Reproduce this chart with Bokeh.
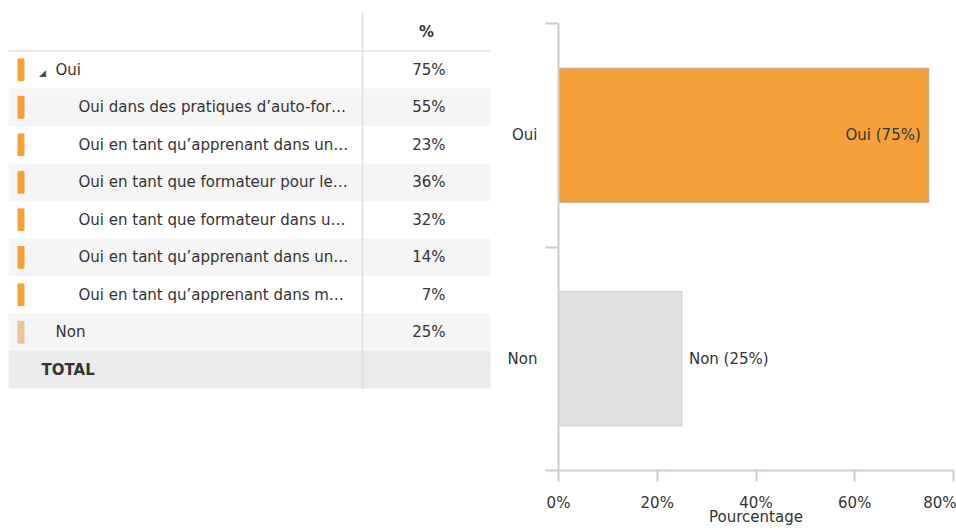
from bokeh.plotting import figure
from bokeh.layouts import row
from bokeh.models import ColumnDataSource, Range1d, FixedTicker, PrintfTickFormatter
from bokeh.core.properties import value
from bokeh.embed import file_html
from bokeh.resources import INLINE

# ---------------- data ----------------
row_labels = [
    "Oui",
    "Oui dans des pratiques d\u2019auto-for\u2026",
    "Oui en tant qu\u2019apprenant dans un\u2026",
    "Oui en tant que formateur pour le\u2026",
    "Oui en tant que formateur dans u\u2026",
    "Oui en tant qu\u2019apprenant dans un\u2026",
    "Oui en tant qu\u2019apprenant dans m\u2026",
    "Non",
]
row_levels = [0, 1, 1, 1, 1, 1, 1, 0]
row_pcts = [75, 55, 23, 36, 32, 14, 7, 25]
row_group = ["Oui", "Oui", "Oui", "Oui", "Oui", "Oui", "Oui", "Non"]
total_label = "TOTAL"
header_label = "%"

categories = ["Oui", "Non"]
cat_values = [75, 25]
x_ticks = [0, 20, 40, 60, 80]
x_title = "Pourcentage"

FONT = "DejaVu Sans"
FS = "15px"
TXT = "#333333"
ORANGE = "#f4a13a"
LIGHT_ORANGE = "#f0c48e"
GREY_BAR = "#e0e0e0"
AXIS = "#c7cdd9"

H = 530
TOP, BOTTOM = 8, 60          # shared borders so both frames line up
FRAME_BOTTOM = H - BOTTOM

# ---------------- table figure ----------------
TW = 498
ROW_H = 37.5
ROW0 = 69.25  # screen y of first data row centre
t = figure(width=TW, height=H, output_backend="svg", toolbar_location=None,
           x_range=Range1d(0, TW),
           y_range=Range1d((FRAME_BOTTOM - ROW0) / ROW_H, (TOP - ROW0) / ROW_H),
           min_border_left=0, min_border_right=0,
           min_border_top=TOP, min_border_bottom=BOTTOM, outline_line_color=None)
t.axis.visible = False
t.grid.visible = False

n = len(row_labels)
idx = list(range(n))
tsrc = ColumnDataSource(dict(
    y=idx,
    label=row_labels,
    lx=[55 + 23 * lv for lv in row_levels],
    pct=[f"{v}%" for v in row_pcts],
    bg=["#f5f5f5" if i % 2 == 1 else "#ffffff" for i in idx],
    mk=[ORANGE if g == "Oui" else LIGHT_ORANGE for g in row_group],
    mkl=[ORANGE if g == "Oui" else "#d2c6b8" for g in row_group],
))
t.hbar(y="y", left=8, right=490, height=1, fill_color="bg", line_color=None, source=tsrc)
t.hbar(y=[n], left=8, right=490, height=1, fill_color="#ebebeb", line_color=None)
t.segment(x0=8, x1=490, y0=-0.5, y1=-0.5, line_color="#e3e3e3", line_width=1.5)
t.segment(x0=362, x1=362, y0=(12 - ROW0) / ROW_H, y1=n + 0.5, line_color="#dddddd",
          line_width=1.5)
t.rect(x=20.5, y="y", width=6, height=0.58, fill_color="mk", line_color="mkl",
       line_width=1, source=tsrc)
parents = [i for i in idx if i + 1 < n and row_levels[i + 1] > row_levels[i]]
t.text(x=[42] * len(parents), y=parents, text=["\u25e2"] * len(parents),
       text_font=value("DejaVu Sans"), text_font_size="9px", text_color="#444444",
       text_align="center", text_baseline="middle", y_offset=3)
t.text(x="lx", y="y", text="label", source=tsrc, text_font=value(FONT),
       text_font_size=FS, text_color=TXT, text_align="left", text_baseline="middle")
t.text(x=445, y="y", text="pct", source=tsrc, text_font=value(FONT),
       text_font_size=FS, text_color=TXT, text_align="right", text_baseline="middle")
t.text(x=[426], y=[-1], text=[header_label], text_font=value(FONT), text_font_size=FS,
       text_font_style="bold", text_color=TXT, text_align="center", text_baseline="middle")
t.text(x=[41], y=[n], text=[total_label], text_font=value(FONT), text_font_size=FS,
       text_font_style="bold", text_color=TXT, text_align="left", text_baseline="middle")

# ---------------- bar chart figure ----------------
CW = 458
CAT_PX = (FRAME_BOTTOM - 23) / 2.0
ncat = len(categories)
y_end = ncat + (FRAME_BOTTOM - TOP - ncat * CAT_PX) / CAT_PX
c = figure(width=CW, height=H, output_backend="svg", toolbar_location=None,
           x_range=Range1d(0, 80), y_range=Range1d(0, y_end),
           min_border_left=60, min_border_right=3, min_border_top=TOP,
           min_border_bottom=BOTTOM, outline_line_color=None)
c.grid.visible = False

ypos = [ncat - 1 - i + 0.5 for i in range(ncat)]
inside = [v >= 50 for v in cat_values]
csrc = ColumnDataSource(dict(
    y=ypos,
    v=cat_values,
    fill=[ORANGE if cat == "Oui" else GREY_BAR for cat in categories],
    line=["#b8ab9a" if cat == "Oui" else "#cccccc" for cat in categories],
    lab=[f"{cat} ({v}%)" for cat, v in zip(categories, cat_values)],
    align=["right" if ins else "left" for ins in inside],
    xo=[-8 if ins else 7 for ins in inside],
))
c.hbar(y="y", left=0, right="v", height=0.6, fill_color="fill", line_color="line",
       line_width=1, source=csrc)
c.text(x="v", y="y", text="lab", x_offset="xo", text_align="align", text_baseline="middle",
       text_font=value(FONT), text_font_size=FS, text_color=TXT, source=csrc)

ya = c.yaxis[0]
ya.bounds = (0, ncat)
ya.ticker = FixedTicker(ticks=ypos, minor_ticks=list(range(ncat + 1)))
ya.major_label_overrides = {y: cat for y, cat in zip(ypos, categories)}
ya.major_tick_out = 0
ya.major_tick_in = 0
ya.minor_tick_out = 13
ya.minor_tick_in = 0
ya.minor_tick_line_color = AXIS
ya.minor_tick_line_width = 2
ya.axis_line_color = AXIS
ya.axis_line_width = 2
ya.major_label_standoff = 8
ya.major_label_text_font = FONT
ya.major_label_text_font_size = FS
ya.major_label_text_color = TXT

xa = c.xaxis[0]
xa.ticker = FixedTicker(ticks=x_ticks, minor_ticks=[])
xa.formatter = PrintfTickFormatter(format="%d%%")
xa.major_tick_out = 11
xa.major_tick_in = 0
xa.major_tick_line_color = AXIS
xa.major_tick_line_width = 2
xa.axis_line_color = AXIS
xa.axis_line_width = 2
xa.major_label_standoff = 12
xa.major_label_text_font = FONT
xa.major_label_text_font_size = FS
xa.major_label_text_color = TXT
xa.axis_label = x_title
xa.axis_label_standoff = -7
xa.axis_label_text_font = FONT
xa.axis_label_text_font_size = FS
xa.axis_label_text_font_style = "normal"
xa.axis_label_text_color = TXT

layout = row(t, c)
open("out.html", "w").write(file_html(layout, INLINE))
